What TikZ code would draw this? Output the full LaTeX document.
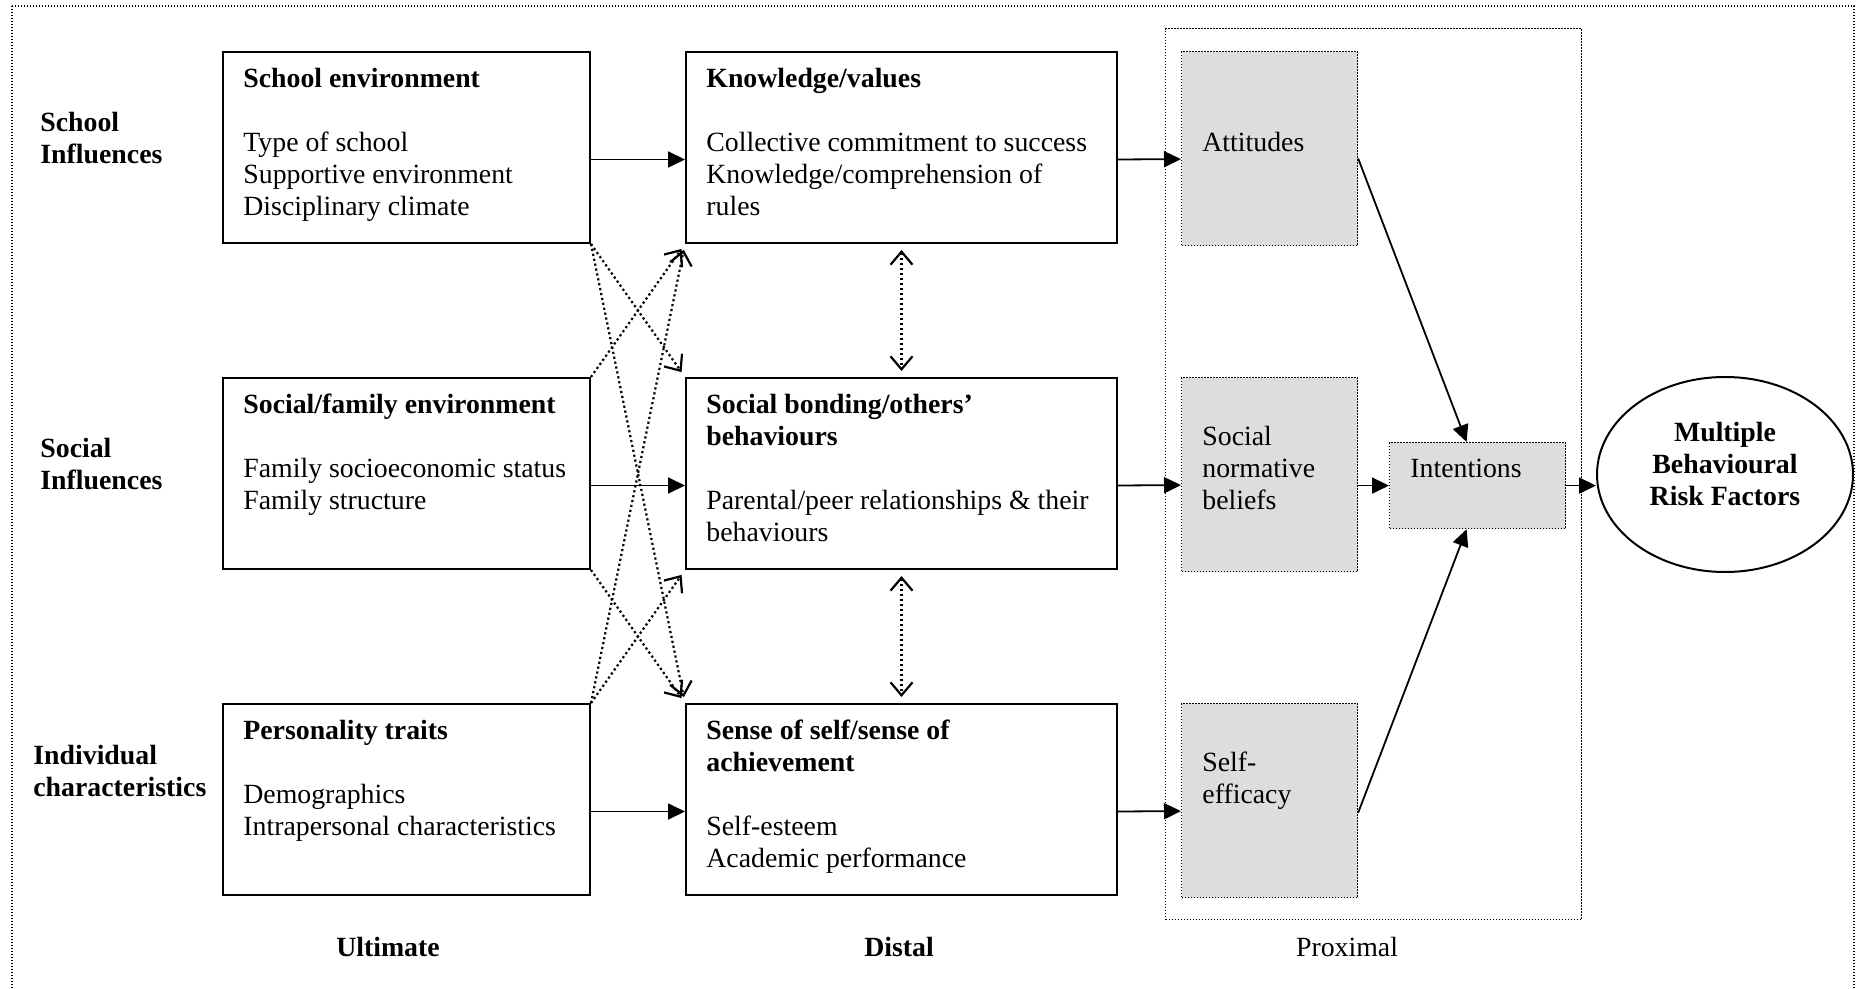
\documentclass[tikz,border=0pt]{standalone}
\usepackage{fontspec}
\setmainfont{Liberation Serif}
\usetikzlibrary{arrows.meta,shapes.geometric}
\definecolor{boxgray}{RGB}{221,221,221}
\newcommand{\diagfont}{\fontsize{13.9}{16}\selectfont}

\begin{document}
\begin{tikzpicture}[x=0.5pt,y=-0.5pt,font=\diagfont,
    mainbox/.style={draw, line width=1pt, rectangle, anchor=north west, inner sep=0pt, minimum width=#1, minimum height=95.5pt},
    dotbox/.style={draw, line width=0.6pt, dash pattern=on 0.6pt off 0.9pt},
    graybox/.style={dotbox, fill=boxgray, rectangle, anchor=north west, inner sep=0pt, minimum width=88pt, minimum height=#1},
    txt/.style={anchor=north west, inner sep=0pt, align=left},
    lab/.style={txt, font=\diagfont\bfseries},
    solarr/.style={line width=0.9pt, -{Triangle[length=8.5pt,width=8pt]}},
    barb/.tip={Straight Barb[length=6.5pt,width=11pt]},
    dotarr/.style={line width=1.1pt, dash pattern=on 1.1pt off 1.4pt, -barb, shorten >=3pt}]

    \clip (0,0) rectangle (1858,989);

    % Outer frame
    \draw[dotbox] (12,6) rectangle (1854,1010);

    % Proximal frame
    \node[dotbox, rectangle, anchor=north west, inner sep=0pt, minimum width=208pt, minimum height=445.5pt] (prox) at (1165,28) {};

    % Row labels
    \node[lab] (schoollab) at (40,112) {School\\ Influences};
    \node[lab] (sociallab) at (40,438) {Social\\ Influences};
    \node[lab] (indivlab) at (33,745) {Individual\\ characteristics};

    % Ultimate boxes
    \node[mainbox=183.5pt] (school) at (222,51) {};
    \node[mainbox=183.5pt] (family) at (222,377) {};
    \node[mainbox=183.5pt] (pers) at (222,703) {};

    \node[txt] (schooltxt) at ([shift={(21,17)}]school.north west) {\textbf{School environment}\\[16pt] Type of school\\ Supportive environment\\ Disciplinary climate};
    \node[txt] (familytxt) at ([shift={(21,17)}]family.north west) {\textbf{Social/family environment}\\[16pt] Family socioeconomic status\\ Family structure};
    \node[txt] (perstxt) at ([shift={(21,17)}]pers.north west) {\textbf{Personality traits}\\[16pt] Demographics\\ Intrapersonal characteristics};

    % Distal boxes
    \node[mainbox=215.5pt] (know) at (685,51) {};
    \node[mainbox=215.5pt] (bond) at (685,377) {};
    \node[mainbox=215.5pt] (self) at (685,703) {};

    \node[txt] (knowtxt) at ([shift={(21,17)}]know.north west) {\textbf{Knowledge/values}\\[16pt] Collective commitment to success\\ Knowledge/comprehension of\\ rules};
    \node[txt] (bondtxt) at ([shift={(21,17)}]bond.north west) {\textbf{Social bonding/others'}\\ \textbf{behaviours}\\[16pt] Parental/peer relationships \& their\\ behaviours};
    \node[txt] (selftxt) at ([shift={(21,17)}]self.north west) {\textbf{Sense of self/sense of}\\ \textbf{achievement}\\[16pt] Self-esteem\\ Academic performance};

    % Proximal boxes
    \node[graybox=97pt] (att) at (1181,51) {};
    \node[graybox=97pt] (norm) at (1181,377) {};
    \node[graybox=97pt] (eff) at (1181,703) {};
    \node[graybox=43pt] (int) at (1389,442) {};

    \node[txt] (atttxt) at ([shift={(21,81)}]att.north west) {Attitudes};
    \node[txt] (normtxt) at ([shift={(21,49)}]norm.north west) {Social\\ normative\\ beliefs};
    \node[txt] (efftxt) at ([shift={(21,49)}]eff.north west) {Self-\\ efficacy};
    \node[txt] (inttxt) at ([shift={(21,17)}]int.north west) {Intentions};

    % Outcome
    \node[draw, ellipse, line width=1pt, inner sep=0pt, minimum width=128pt, minimum height=97.5pt] (risk) at (1725,474.5) {};
    \node[align=center, inner sep=0pt, font=\diagfont\bfseries] (risktxt) at ([shift={(0,-11)}]risk.center) {Multiple\\ Behavioural\\ Risk Factors};

    % Column labels
    \node[anchor=base, font=\diagfont\bfseries] (ultlab) at (388,956) {Ultimate};
    \node[anchor=base, font=\diagfont\bfseries] (distlab) at (899,956) {Distal};
    \node[anchor=base] (proxlab) at (1347,956) {Proximal};

    % Solid connections
    \draw[solarr] ([shift={(0,12)}]school.east) -- ([shift={(0,12)}]know.west);
    \draw[solarr] ([shift={(0,12)}]family.east) -- ([shift={(0,12)}]bond.west);
    \draw[solarr] ([shift={(0,12)}]pers.east) -- ([shift={(0,12)}]self.west);
    \draw[solarr] ([shift={(0,12)}]know.east) -- ([shift={(0,10.5)}]att.west);
    \draw[solarr] ([shift={(0,12)}]bond.east) -- ([shift={(0,10.5)}]norm.west);
    \draw[solarr] ([shift={(0,12)}]self.east) -- ([shift={(0,10.5)}]eff.west);
    \draw[solarr] (norm.east |- int.west) -- (int.west);
    \draw[solarr] ([shift={(0,10)}]att.east) -- ([shift={(-11,0)}]int.north);
    \draw[solarr] ([shift={(0,12)}]eff.east) -- ([shift={(-11,0)}]int.south);
    \draw[solarr] (int.east) -- (risk.west |- int.east);

    % Dotted connections
    \draw[dotarr] (school.south east) -- (bond.north west);
    \draw[dotarr] (school.south east) -- (self.north west);
    \draw[dotarr] (family.north east) -- (know.south west);
    \draw[dotarr] (family.south east) -- (self.north west);
    \draw[dotarr] (pers.north east) -- (know.south west);
    \draw[dotarr] (pers.north east) -- (bond.south west);
    \draw[dotarr, barb-barb, shorten <=3pt] (know.south) -- (bond.north);
    \draw[dotarr, barb-barb, shorten <=3pt] (bond.south) -- (self.north);

\end{tikzpicture}
\end{document}
